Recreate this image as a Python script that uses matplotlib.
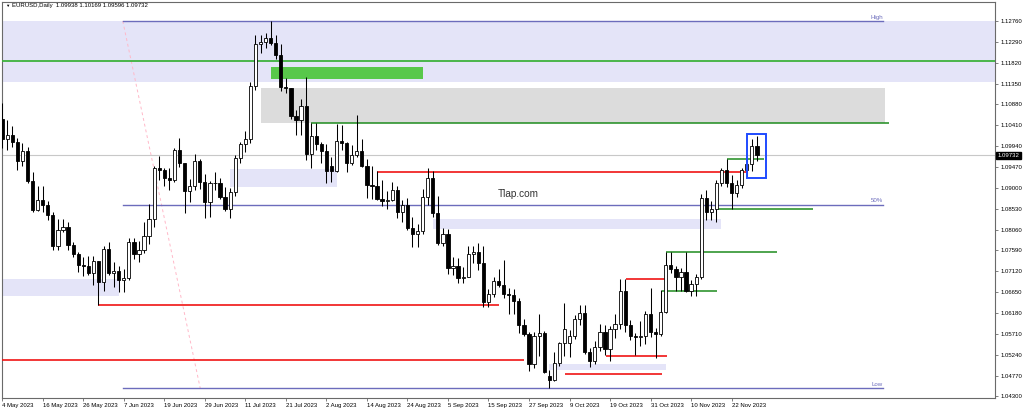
import matplotlib
matplotlib.use('Agg')
import matplotlib.pyplot as plt
from matplotlib.patches import Rectangle
import numpy as np

plt.rcParams['font.family'] = ['Liberation Sans', 'DejaVu Sans']

# ---------------- data (EURUSD daily, 4 May 2023 .. 29 Nov 2023) ----------------
opens = [1.1056, 1.1010, 1.1018, 1.1004, 1.0960, 1.0982, 1.0915, 1.0850, 1.0873, 1.0862,
         1.0838, 1.0770, 1.0805, 1.0812, 1.0771, 1.0752, 1.0726, 1.0723, 1.0707, 1.0735,
         1.0688, 1.0763, 1.0707, 1.0712, 1.0692, 1.0697, 1.0779, 1.0750, 1.0759, 1.0792,
         1.0830, 1.0944, 1.0940, 1.0922, 1.0917, 1.0985, 1.0955, 1.0893, 1.0905, 1.0960,
         1.0913, 1.0867, 1.0910, 1.0912, 1.0880, 1.0852, 1.0890, 1.0967, 1.0998, 1.1010,
         1.1129, 1.1224, 1.1228, 1.1237, 1.1227, 1.1199, 1.1128, 1.1124, 1.1062, 1.1052,
         1.1085, 1.0976, 1.1016, 1.0998, 1.0983, 1.0949, 1.0938, 1.1006, 1.1002, 1.0957,
         1.0973, 1.0982, 1.0949, 1.0906, 1.0904, 1.0875, 1.0871, 1.0872, 1.0895, 1.0846,
         1.0862, 1.0809, 1.0795, 1.0802, 1.0880, 1.0923, 1.0843, 1.0775, 1.0795, 1.0720,
         1.0723, 1.0696, 1.0700, 1.0750, 1.0755, 1.0730, 1.0642, 1.0660, 1.0690, 1.0680,
         1.0660, 1.0658, 1.0644, 1.0592, 1.0570, 1.0502, 1.0566, 1.0573, 1.0477, 1.0466,
         1.0505, 1.0550, 1.0551, 1.0566, 1.0604, 1.0618, 1.0530, 1.0510, 1.0542, 1.0575,
         1.0536, 1.0582, 1.0594, 1.0668, 1.0590, 1.0566, 1.0563, 1.0566, 1.0616, 1.0576,
         1.0570, 1.0620, 1.0727, 1.0718, 1.0698, 1.0710, 1.0667, 1.0684, 1.0700, 1.0878,
         1.0846, 1.0853, 1.0911, 1.0940, 1.0912, 1.0888, 1.0906, 1.0940, 1.0954, 1.09938]
highs = [1.1092, 1.1052, 1.1040, 1.1012, 1.1000, 1.0992, 1.0935, 1.0904, 1.0904, 1.0870,
         1.0846, 1.0829, 1.0830, 1.0822, 1.0778, 1.0756, 1.0745, 1.0746, 1.0747, 1.0736,
         1.0770, 1.0779, 1.0733, 1.0724, 1.0716, 1.0786, 1.0787, 1.0780, 1.0823, 1.0864,
         1.0950, 1.0971, 1.0944, 1.0945, 1.0989, 1.1012, 1.0957, 1.0919, 1.0976, 1.0965,
         1.0932, 1.0915, 1.0935, 1.0922, 1.0901, 1.0899, 1.0975, 1.1004, 1.1029, 1.1139,
         1.1244, 1.1244, 1.1250, 1.1276, 1.1245, 1.1224, 1.1148, 1.1125, 1.1075, 1.1100,
         1.1149, 1.1045, 1.1045, 1.1003, 1.0999, 1.0970, 1.1043, 1.1041, 1.1004, 1.0996,
         1.1065, 1.1011, 1.0965, 1.0950, 1.0937, 1.0917, 1.0893, 1.0913, 1.0904, 1.0873,
         1.0876, 1.0834, 1.0818, 1.0897, 1.0945, 1.0937, 1.0882, 1.0809, 1.0807, 1.0745,
         1.0743, 1.0722, 1.0768, 1.0768, 1.0775, 1.0768, 1.0671, 1.0699, 1.0718, 1.0737,
         1.0675, 1.0673, 1.0652, 1.0605, 1.0576, 1.0574, 1.0615, 1.0578, 1.0490, 1.0531,
         1.0553, 1.0640, 1.0580, 1.0613, 1.0635, 1.0637, 1.0540, 1.0555, 1.0594, 1.0592,
         1.0588, 1.0616, 1.0695, 1.0694, 1.0602, 1.0572, 1.0601, 1.0623, 1.0675, 1.0585,
         1.0670, 1.0756, 1.0756, 1.0723, 1.0719, 1.0756, 1.0693, 1.0705, 1.0887, 1.0895,
         1.0871, 1.0917, 1.0944, 1.0965, 1.0929, 1.0918, 1.0945, 1.0965, 1.1009, 1.10169]
lows = [1.0990, 1.0985, 1.0992, 1.0941, 1.0950, 1.0910, 1.0845, 1.0848, 1.0846, 1.0827,
        1.0760, 1.0759, 1.0800, 1.0761, 1.0745, 1.0711, 1.0702, 1.0703, 1.0680, 1.0635,
        1.0668, 1.0704, 1.0676, 1.0666, 1.0665, 1.0692, 1.0740, 1.0733, 1.0753, 1.0773,
        1.0812, 1.0917, 1.0904, 1.0895, 1.0913, 1.0947, 1.0844, 1.0868, 1.0895, 1.0898,
        1.0833, 1.0835, 1.0894, 1.0875, 1.0848, 1.0833, 1.0882, 1.0955, 1.0980, 1.1000,
        1.1121, 1.1203, 1.1216, 1.1222, 1.1190, 1.1119, 1.1113, 1.1055, 1.1020, 1.1019,
        1.0963, 1.0944, 1.0986, 1.0955, 1.0912, 1.0913, 1.0935, 1.0985, 1.0935, 1.0951,
        1.0970, 1.0946, 1.0877, 1.0875, 1.0873, 1.0860, 1.0852, 1.0870, 1.0833, 1.0822,
        1.0804, 1.0766, 1.0766, 1.0796, 1.0862, 1.0835, 1.0771, 1.0770, 1.0705, 1.0704,
        1.0686, 1.0686, 1.0700, 1.0730, 1.0715, 1.0631, 1.0632, 1.0655, 1.0677, 1.0652,
        1.0615, 1.0615, 1.0572, 1.0565, 1.0488, 1.0495, 1.0520, 1.0482, 1.0448, 1.0465,
        1.0498, 1.0520, 1.0518, 1.0560, 1.0591, 1.0526, 1.0496, 1.0502, 1.0532, 1.0524,
        1.0510, 1.0561, 1.0582, 1.0576, 1.0558, 1.0524, 1.0544, 1.0549, 1.0563, 1.0517,
        1.0566, 1.0619, 1.0707, 1.0667, 1.0668, 1.0665, 1.0656, 1.0656, 1.0694, 1.0828,
        1.0828, 1.0823, 1.0905, 1.0902, 1.0852, 1.0880, 1.0900, 1.0925, 1.0938, 1.09596]
closes = [1.1010, 1.1018, 1.1004, 1.0960, 1.0982, 1.0915, 1.0850, 1.0873, 1.0862, 1.0838,
          1.0770, 1.0805, 1.0812, 1.0771, 1.0752, 1.0725, 1.0723, 1.0707, 1.0735, 1.0688,
          1.0763, 1.0707, 1.0712, 1.0692, 1.0697, 1.0779, 1.0750, 1.0759, 1.0792, 1.0830,
          1.0944, 1.0940, 1.0922, 1.0917, 1.0985, 1.0955, 1.0893, 1.0905, 1.0960, 1.0913,
          1.0867, 1.0910, 1.0912, 1.0880, 1.0852, 1.0890, 1.0967, 1.0998, 1.1010, 1.1129,
          1.1224, 1.1228, 1.1237, 1.1227, 1.1199, 1.1128, 1.1124, 1.1062, 1.1052, 1.1085,
          1.0976, 1.1016, 1.0998, 1.0983, 1.0937, 1.0938, 1.1006, 1.1002, 1.0957, 1.0973,
          1.0982, 1.0949, 1.0906, 1.0904, 1.0875, 1.0871, 1.0872, 1.0895, 1.0846, 1.0862,
          1.0809, 1.0795, 1.0802, 1.0880, 1.0923, 1.0843, 1.0775, 1.0795, 1.0720, 1.0723,
          1.0696, 1.0700, 1.0750, 1.0755, 1.0730, 1.0642, 1.0660, 1.0690, 1.0680, 1.0660,
          1.0658, 1.0644, 1.0592, 1.0570, 1.0502, 1.0566, 1.0573, 1.0486, 1.0466, 1.0505,
          1.0550, 1.0582, 1.0566, 1.0604, 1.0618, 1.0530, 1.0510, 1.0542, 1.0575, 1.0536,
          1.0582, 1.0594, 1.0668, 1.0590, 1.0566, 1.0563, 1.0566, 1.0616, 1.0576, 1.0570,
          1.0620, 1.0727, 1.0718, 1.0698, 1.0710, 1.0667, 1.0684, 1.0700, 1.0878, 1.0846,
          1.0853, 1.0911, 1.0940, 1.0912, 1.0888, 1.0906, 1.0940, 1.0954, 1.0994, 1.09732]

date_tick_bars = [0, 8, 16, 24, 32, 40, 48, 56, 64, 72, 80, 88, 96, 104, 112, 120, 128, 136, 144]
date_labels = ['4 May 2023', '16 May 2023', '26 May 2023', '7 Jun 2023', '19 Jun 2023',
               '29 Jun 2023', '11 Jul 2023', '21 Jul 2023', '2 Aug 2023', '14 Aug 2023',
               '24 Aug 2023', '5 Sep 2023', '15 Sep 2023', '27 Sep 2023', '9 Oct 2023',
               '19 Oct 2023', '31 Oct 2023', '10 Nov 2023', '22 Nov 2023']
price_ticks = [1.12760, 1.12290, 1.11820, 1.11350, 1.10880, 1.10410, 1.09940, 1.09470,
               1.09000, 1.08530, 1.08060, 1.07590, 1.07120, 1.06650, 1.06180, 1.05710,
               1.05240, 1.04770, 1.04300]

header = 'EURUSD,Daily  1.09938 1.10169 1.09596 1.09732'

# analysis objects: (bar_start, bar_end, price_low, price_high)
lavender_zones = [(-1, 200, 1.1139, 1.1275), (45, 66, 1.0902, 1.0943),
                  (85, 142, 1.0808, 1.0830), (108, 131, 1.0490, 1.0503),
                  (-1, 23, 1.0656, 1.0694)]
gray_zone = (51, 174.2, 1.1047, 1.1126)
green_zone = (53, 83, 1.1145, 1.1173)
# (bar_start, bar_end, price)
green_lines = [(61, 175, 1.1047), (141.3, 160, 1.0852), (143, 150.4, 1.0965),
               (131, 153, 1.0756), (130.3, 141.2, 1.0667)]
red_lines = [(74, 147, 1.0936), (123.2, 131, 1.0695), (19, 98, 1.0635),
             (-1, 103, 1.0513), (119.3, 131.2, 1.0522), (111.2, 130.2, 1.0480)]
major_green_level = 1.1185
fib_high, fib_low = 1.1276, 1.0448
fib_start, fib_end = 23.8, 173.8
fib_diag_end = 39.1
blue_box = (147.0, 150.8, 1.0922, 1.1021)
watermark = 'Tlap.com'

# ---------------- figure ----------------
fig = plt.figure(figsize=(10.24, 4.12), dpi=100)
ax = fig.add_axes([1.5 / 1024, 14.5 / 412, 993.5 / 1024, 395.5 / 412])
ax.set_xlim(-0.14, 196.0)
ax.set_ylim(1.04275, 1.13188)

lav = '#E4E4F8'
for b0, b1, p0, p1 in lavender_zones:
    ax.add_patch(Rectangle((b0, p0), b1 - b0, p1 - p0, fc=lav, ec='none', zorder=1))
b0, b1, p0, p1 = gray_zone
ax.add_patch(Rectangle((b0, p0), b1 - b0, p1 - p0, fc='#DCDCDC', ec='none', zorder=1))
b0, b1, p0, p1 = green_zone
ax.add_patch(Rectangle((b0, p0), b1 - b0, p1 - p0, fc='#58C84A', ec='none', zorder=2))

ax.axhline(major_green_level, color='#3DB23D', lw=1.3, zorder=3)
ax.axhline(closes[-1], color='#C8C8C8', lw=0.8, zorder=2)

for b0, b1, p in green_lines:
    ax.plot([b0, b1], [p, p], color='#1E8C1E', lw=1.1, zorder=3, solid_capstyle='butt')
for b0, b1, p in red_lines:
    ax.plot([b0, b1], [p, p], color='#F01414', lw=1.2, zorder=3, solid_capstyle='butt')

fib_col = '#6C6CBC'
fib_mid = (fib_high + fib_low) / 2
for lvl, name in [(fib_high, 'High'), (fib_mid, '50%'), (fib_low, 'Low')]:
    ax.plot([fib_start, fib_end], [lvl, lvl], color=fib_col, lw=1.0, zorder=3)
    ax.text(fib_end + 0.1, lvl + 0.0003, name, color=fib_col, fontsize=4.4,
            ha='right', va='bottom', zorder=4)
ax.plot([fib_start, fib_diag_end], [fib_high, fib_low], color='#FFB8C8', lw=0.7,
        ls=(0, (3, 3)), zorder=2)

b0, b1, p0, p1 = blue_box
ax.add_patch(Rectangle((b0, p0), b1 - b0, p1 - p0, fc='none', ec='#1F4BFF', lw=1.4, zorder=7))

# candles
x = np.arange(len(opens))
o = np.array(opens); h = np.array(highs); l = np.array(lows); c = np.array(closes)
ax.vlines(x, l, h, color='black', lw=0.75, zorder=5)
bull = c >= o
bottoms = np.minimum(o, c)
heights = np.maximum(np.abs(c - o), 0.00005)
ax.bar(x, heights, bottom=bottoms, width=0.64, color=np.where(bull, 'white', 'black'),
       edgecolor='black', linewidth=0.6, zorder=6)

ax.text(101.9, 1.08864, watermark, fontsize=7.2, color='#333333', ha='center',
        va='center', zorder=8)

# axes styling
for s in ax.spines.values():
    s.set_color('#6A6A6A')
    s.set_linewidth(0.8)
ax.yaxis.tick_right()
ax.set_yticks(price_ticks)
ax.set_yticklabels(['%.5f' % v for v in price_ticks])
ax.tick_params(axis='y', length=2.5, width=0.6, pad=1.5, labelsize=4.3, colors='#6A6A6A',
               labelcolor='black')
ax.set_xticks(date_tick_bars)
ax.set_xticklabels(date_labels, ha='left')
ax.tick_params(axis='x', length=2.5, width=0.6, pad=1.5, labelsize=4.3, colors='#6A6A6A',
               labelcolor='black')

ax.text(1.0025, closes[-1], '%.5f' % closes[-1], transform=ax.get_yaxis_transform(),
        ha='left', va='center', color='white', fontsize=4.3, zorder=10, clip_on=False,
        bbox=dict(boxstyle='square,pad=0.2', fc='black', ec='black'))

fig.text(5 / 1024, 1 - 6 / 412, '\u25bc', fontsize=3.2, color='black', ha='left', va='center')
fig.text(11.5 / 1024, 1 - 6 / 412, header, fontsize=4.3, color='black', ha='left', va='center')

fig.savefig('out.png', dpi=100, facecolor='white')
